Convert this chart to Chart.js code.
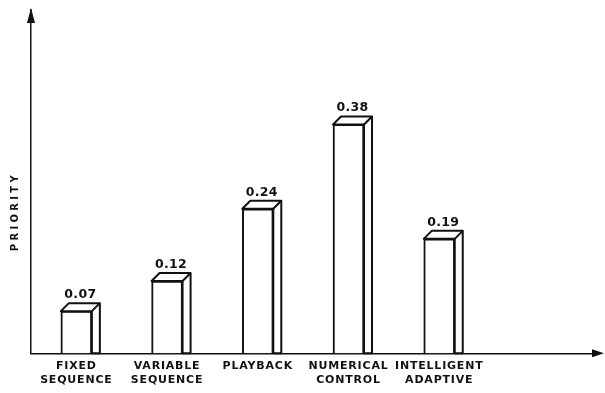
<!DOCTYPE html>
<html>
<head>
<meta charset="utf-8">
<script src="https://cdn.jsdelivr.net/npm/chart.js@4.4.1/dist/chart.umd.min.js"></script>
<style>
  html, body { margin: 0; padding: 0; background: #fff; }
  #wrap { width: 605px; height: 393px; }
</style>
</head>
<body>
<div id="wrap"><canvas id="chart"></canvas></div>
<script>
const categories = [
  ['FIXED', 'SEQUENCE'],
  ['VARIABLE', 'SEQUENCE'],
  ['PLAYBACK'],
  ['NUMERICAL', 'CONTROL'],
  ['INTELLIGENT', 'ADAPTIVE'],
];
const priorities = [0.07, 0.12, 0.24, 0.38, 0.19];
const yTitle = 'PRIORITY';

const ink = '#111';
const depth = 8;

// side and top faces of each bar, the value above it, axis arrows and title
const boxPlugin = {
  id: 'box3d',
  beforeDraw(chart) {
    chart.ctx.letterSpacing = '0.8px';
  },
  afterDatasetsDraw(chart) {
    const ctx = chart.ctx;
    const meta = chart.getDatasetMeta(0);
    ctx.save();
    ctx.strokeStyle = ink;
    ctx.lineWidth = 2;
    ctx.lineJoin = 'round';
    meta.data.forEach((bar, i) => {
      const l = bar.x - bar.width / 2;
      const r = bar.x + bar.width / 2;
      const t = bar.y;
      const b = bar.base;
      ctx.beginPath();
      ctx.moveTo(l, t);
      ctx.lineTo(l + depth, t - depth);
      ctx.lineTo(r + depth, t - depth);
      ctx.lineTo(r + depth, b);
      ctx.lineTo(r, b);
      ctx.lineTo(r, t);
      ctx.closePath();
      ctx.fillStyle = '#fff';
      ctx.fill();
      ctx.stroke();
      ctx.beginPath();
      ctx.moveTo(r, t);
      ctx.lineTo(r + depth, t - depth);
      ctx.stroke();

      ctx.fillStyle = ink;
      ctx.font = 'bold 12.5px "DejaVu Sans"';
      ctx.letterSpacing = '0.3px';
      ctx.textAlign = 'center';
      ctx.textBaseline = 'alphabetic';
      ctx.fillText(priorities[i].toFixed(2), bar.x + depth / 2, t - depth - 5);
    });
    ctx.restore();
  },
  afterDraw(chart) {
    const ctx = chart.ctx;
    const a = chart.chartArea;
    ctx.save();
    ctx.fillStyle = ink;
    ctx.beginPath();
    ctx.moveTo(a.left, a.top - 2);
    ctx.lineTo(a.left - 4, a.top + 13);
    ctx.lineTo(a.left + 4, a.top + 13);
    ctx.closePath();
    ctx.fill();
    ctx.beginPath();
    ctx.moveTo(a.right + 6, a.bottom);
    ctx.lineTo(a.right - 6, a.bottom - 4);
    ctx.lineTo(a.right - 6, a.bottom + 4);
    ctx.closePath();
    ctx.fill();

    // y title sits below the middle of the axis in the original
    ctx.translate(a.left - 16, (a.top + a.bottom) / 2 + 30);
    ctx.rotate(-Math.PI / 2);
    ctx.font = 'bold 10px "DejaVu Sans"';
    ctx.letterSpacing = '3.3px';
    ctx.textAlign = 'center';
    ctx.textBaseline = 'middle';
    ctx.fillText(yTitle, 0, 0);
    ctx.restore();
  },
};

new Chart(document.getElementById('chart'), {
  type: 'bar',
  data: {
    datasets: [{
      data: priorities.map((p, i) => ({ x: i, y: p })),
      backgroundColor: '#fff',
      borderColor: ink,
      borderWidth: 2,
      borderSkipped: 'bottom',
      barThickness: 31,
    }],
  },
  options: {
    responsive: true,
    maintainAspectRatio: false,
    animation: false,
    layout: { padding: { left: 31, top: 10, right: 7, bottom: 0 } },
    plugins: { legend: { display: false }, tooltip: { enabled: false } },
    scales: {
      x: {
        type: 'linear',
        min: -0.5,
        max: 5.75,
        offset: false,
        grid: { display: false, drawTicks: false, offset: false },
        border: { display: true, color: ink, width: 1.5 },
        afterBuildTicks: (scale) => {
          scale.ticks = categories.map((c, i) => ({ value: i }));
        },
        ticks: {
          autoSkip: false,
          maxRotation: 0,
          padding: 5,
          color: ink,
          font: { family: 'DejaVu Sans', size: 11, weight: 'bold', lineHeight: 1.35 },
          callback: (v) => categories[v],
        },
      },
      y: {
        min: 0,
        max: 0.57,
        grid: { display: false, drawTicks: false },
        border: { display: true, color: ink, width: 1.5 },
        ticks: { display: false },
      },
    },
  },
  plugins: [boxPlugin],
});
</script>
</body>
</html>
